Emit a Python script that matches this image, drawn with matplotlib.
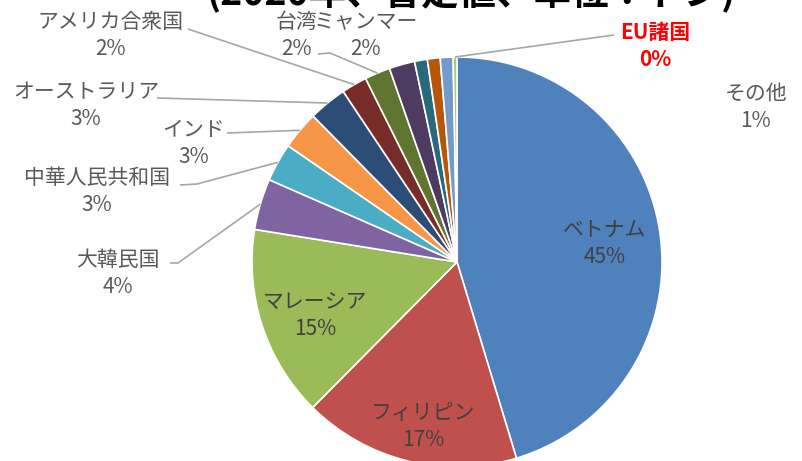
import matplotlib.pyplot as plt
import numpy as np

plt.rcParams['font.family'] = ['Noto Sans CJK JP', 'DejaVu Sans']

# Export share by country (2020, provisional, tonnes)
countries = ['ベトナム', 'フィリピン', 'マレーシア', '大韓民国', '中華人民共和国', 'インド',
             'オーストラリア', 'アメリカ合衆国', '台湾', 'ミャンマー', '', '', 'その他', 'EU諸国']
shares = [45, 17, 15, 4, 3, 3, 3, 2, 2, 2, 1, 1, 1, 0.3]
colors = ['#4F81BD', '#C0504D', '#9BBB59', '#8064A2', '#4BACC6', '#F79646',
          '#2C4D75', '#772C2A', '#5F7530', '#4D3B62', '#276A7C', '#B65708',
          '#729ACA', '#AFC97A']
title = '(2020年、暫定値、単位：トン)'

# label placement in pixels from top-left (name line centre), None = no label
label_pos = [(605, 230), (423, 413), (315, 302), (118, 260), (97, 178), (194, 130),
             (86, 92), (111, 22), (297, 22), (366, 22), None, None, (756, 94), (655, 33)]
# leader line start / elbow points in pixels (None = no leader)
leaders = {3: [(170, 263), (178, 263)],
           4: [(180, 185), (197, 184)],
           5: [(227, 133)],
           6: [(157, 98)],
           7: [(188, 29)],
           8: [(318, 54), (330, 53)],
           13: [(614, 35)]}

W, H = 803, 461
fig = plt.figure(figsize=(W / 100, H / 100), dpi=100)
ax = fig.add_axes([0, 0, 1, 1])

cx, cy, r = 457, H - 262, 205
wedges, _ = ax.pie(shares, colors=colors, startangle=90, counterclock=False,
                   radius=r, center=(cx, cy),
                   wedgeprops=dict(edgecolor='white', linewidth=1.2))
ax.set_xlim(0, W)
ax.set_ylim(0, H)
ax.set_aspect('auto')
ax.axis('off')

inside = {0, 1, 2}
for i, (name, val, pos) in enumerate(zip(countries, shares, label_pos)):
    if pos is None:
        continue
    x, y = pos
    if i == 13:
        col, wt = '#FF0000', 'bold'
    elif i in inside:
        col, wt = '#404040', 'normal'
    else:
        col, wt = '#595959', 'normal'
    ax.text(x, H - y, name, ha='center', va='center', fontsize=15, color=col, fontweight=wt)
    ax.text(x, H - y - 27, f'{val:.0f}%', ha='center', va='center', fontsize=15,
            color=col, fontweight='bold' if i == 13 else 'normal')

# leader lines from label to the wedge edge
for i, pts in leaders.items():
    w = wedges[i]
    mid = np.deg2rad((w.theta1 + w.theta2) / 2)
    end = (cx + r * np.cos(mid), cy + r * np.sin(mid))
    xs = [p[0] for p in pts] + [end[0]]
    ys = [H - p[1] for p in pts] + [end[1]]
    ax.plot(xs, ys, color='#A6A6A6', lw=1.2, solid_capstyle='butt')

# title is cut off by the top edge in the original
ax.text(472, H - 5, title, ha='center', va='baseline', fontsize=27,
        fontweight='bold', color='black', clip_on=False)

fig.savefig('out.png', dpi=100)
